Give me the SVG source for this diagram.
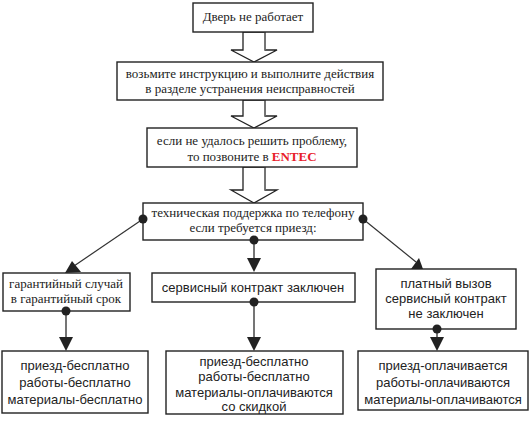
<svg xmlns="http://www.w3.org/2000/svg" width="532" height="425" viewBox="0 0 532 425">
<style>
.box{fill:#fff;stroke:#222;stroke-width:1.4}
.serif{font-family:"Liberation Serif","DejaVu Serif",serif;font-size:13px;fill:#222;text-anchor:middle}
.sans{font-family:"Liberation Sans",Arial,sans-serif;font-size:13px;fill:#222;text-anchor:middle}
.blk{fill:#fff;stroke:#222;stroke-width:1.3}
.sh{stroke:#777;stroke-width:1.6}
.ln{stroke:#333;stroke-width:1.2;fill:none}
.gl{stroke:#666;stroke-width:1.8;fill:none}
.dot{fill:#222}
.head{fill:#222}
.red{fill:#e8202a;font-weight:bold}
</style>
<g id="connectors">
  <polygon class="blk" points="243,32 243,50 231,50 254,62 277,50 265,50 265,32"/>
  <line class="sh" x1="265" y1="32" x2="265" y2="50"/>
  <polygon class="blk" points="243,100 243,116 231,116 254,128 277,116 265,116 265,100"/>
  <line class="sh" x1="265" y1="100" x2="265" y2="116"/>
  <polygon class="blk" points="243,167 243,190 231,190 254,203 277,190 265,190 265,167"/>
  <line class="sh" x1="265" y1="167" x2="265" y2="190"/>
  <line class="ln" x1="143" y1="219" x2="74" y2="266"/>
  <polygon class="head" points="65,273 72,261 81,272"/>
  <line class="ln" x1="363" y1="219" x2="416" y2="262"/>
  <polygon class="head" points="411,269 419,258 423,269"/>
  <line class="gl" x1="254" y1="240" x2="254" y2="260"/>
  <polygon class="head" points="247,258 261,258 254,272"/>
  <line class="gl" x1="66" y1="311" x2="66" y2="340"/>
  <polygon class="head" points="59,337 73,337 66,351"/>
  <line class="gl" x1="254" y1="302" x2="254" y2="340"/>
  <polygon class="head" points="247,337 261,337 254,351"/>
  <line class="gl" x1="437" y1="329" x2="437" y2="340"/>
  <polygon class="head" points="430,337 444,337 437,351"/>
</g>
<g id="n1"><rect class="box" x="193" y="3" width="120" height="29"/><text class="serif" x="253" y="21">Дверь не работает</text></g>
<g id="n2"><rect class="box" x="117" y="62" width="266" height="38"/><text class="serif" x="250" y="78">возьмите инструкцию и выполните действия</text><text class="serif" x="250" y="93">в разделе устранения неисправностей</text></g>
<g id="n3"><rect class="box" x="147" y="128" width="210" height="39"/><text class="serif" x="252" y="145">если не удалось решить проблему,</text><text class="serif" x="252" y="161">то позвоните в <tspan class="red">ENTEC</tspan></text></g>
<g id="n4"><rect class="box" x="143" y="203" width="220" height="37"/><text class="serif" x="253" y="217">техническая поддержка по телефону</text><text class="serif" x="253" y="232">если требуется приезд:</text>
  <circle class="dot" cx="143" cy="219" r="4.5"/><circle class="dot" cx="363" cy="219" r="4.5"/><circle class="dot" cx="254" cy="240" r="4.5"/></g>
<g id="n5"><rect class="box" x="3" y="273" width="127" height="38"/><text class="serif" x="66" y="288">гарантийный случай</text><text class="serif" x="66" y="303">в гарантийный срок</text><circle class="dot" cx="66" cy="311" r="4.5"/></g>
<g id="n6"><rect class="box" x="152" y="273" width="203" height="29"/><text class="sans" x="253" y="292">сервисный контракт заключен</text><circle class="dot" cx="254" cy="302" r="4.5"/></g>
<g id="n7"><rect class="box" x="376" y="269" width="140" height="60"/><text class="sans" x="446" y="288">платный вызов</text><text class="sans" x="446" y="303">сервисный контракт</text><text class="sans" x="446" y="318">не заключен</text><circle class="dot" cx="437" cy="329" r="4.5"/></g>
<g id="n8"><rect class="box" x="2" y="351" width="146" height="62"/><text class="sans" x="75" y="370">приезд-бесплатно</text><text class="sans" x="75" y="387">работы-бесплатно</text><text class="sans" x="75" y="404">материалы-бесплатно</text></g>
<g id="n9"><rect class="box" x="166" y="351" width="177" height="63"/><text class="sans" x="254" y="366">приезд-бесплатно</text><text class="sans" x="254" y="381">работы-бесплатно</text><text class="sans" x="254" y="397">материалы-оплачиваются</text><text class="sans" x="254" y="411">со скидкой</text></g>
<g id="n10"><rect class="box" x="358" y="351" width="170" height="59"/><text class="sans" x="443" y="370">приезд-оплачивается</text><text class="sans" x="443" y="387">работы-оплачиваются</text><text class="sans" x="443" y="404">материалы-оплачиваются</text></g>
</svg>
